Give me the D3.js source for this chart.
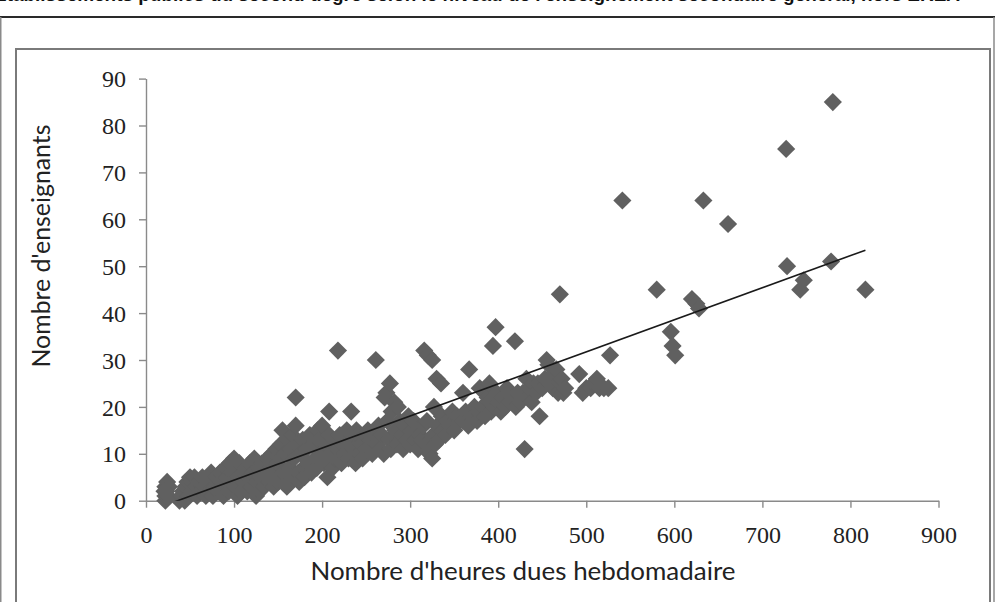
<!DOCTYPE html>
<html lang="fr">
<head>
<meta charset="utf-8">
<script src="https://cdn.jsdelivr.net/npm/d3@7"></script>
<style>
  html, body { margin: 0; padding: 0; background: #fff; }
  svg { display: block; }
</style>
</head>
<body>
<script>
// Établissements : heures dues hebdomadaires (x) et nombre d'enseignants (y)
const heures = [
  22, 22, 23, 22, 24, 25, 26, 21,
  38, 40, 42, 44, 45, 47, 48, 50, 52, 53,
  55, 57, 58, 60, 62, 64, 66, 68,
  70, 72, 74, 76, 78, 80, 82, 84, 86, 88, 89,
  90, 92, 94, 95, 96, 98, 100, 101, 102, 104, 105, 106, 108, 110,
  112, 114, 115, 117, 118, 120, 122, 123, 125, 126, 128, 129,
  130, 132, 134, 136, 138, 140, 142, 143, 145, 146, 148, 149,
  150, 152, 153, 155, 156, 158, 160, 161, 163, 164,
  165, 166, 168, 170, 170, 171, 173, 174, 176, 178, 179,
  180, 182, 184, 186, 188, 190, 192, 194, 195, 196, 198, 200,
  202, 204, 206, 208, 208, 210, 212, 213, 215,
  218, 218, 220, 222, 224, 226, 228, 230, 233, 234, 236, 238, 239, 240,
  242, 244, 246, 248, 250, 252, 255, 257, 259,
  261, 262, 264, 266, 268, 270, 271, 273, 274, 276, 277, 278, 279,
  282, 283, 285, 286, 288, 290, 292, 294, 296, 298, 300,
  302, 304, 306, 307, 309, 311, 313, 315, 316, 318, 319,
  320, 322, 325, 325, 326, 327, 328, 330, 331, 333, 335, 336, 338, 340,
  342, 345, 348, 350, 353, 356, 360, 360, 363, 366, 367, 370, 373, 376, 377, 379,
  382, 385, 388, 390, 390, 392, 394, 396, 397, 398, 400, 403, 405, 408, 410, 413, 416, 419, 420,
  422, 425, 428, 430, 432, 434, 436, 438, 440, 443, 445, 447, 450, 453, 455, 457, 459,
  462, 464, 466, 468, 470, 470, 472, 474, 476, 492, 496, 500, 505, 508, 512, 515, 520, 525, 527,
  541, 580, 596, 598, 601, 620, 625, 628, 633, 661, 727, 728, 743, 747, 778, 780, 817
];
const enseignants = [
  0, 1, 2, 3, 4, 1, 3, 2,
  0, 1, 2, 0, 3, 4, 1, 5, 2, 4,
  5, 3, 1, 4, 2, 5, 3, 1,
  4, 2, 6, 1, 3, 5, 2, 6, 4, 1, 3,
  7, 5, 2, 8, 4, 6, 9, 3, 7, 1, 5, 8, 2, 6,
  4, 7, 2, 5, 8, 3, 6, 9, 1, 4, 7, 2,
  5, 8, 3, 6, 9, 4, 7, 10, 3, 6, 11, 8,
  4, 9, 12, 15, 6, 10, 3, 13, 7, 11,
  5, 14, 9, 22, 16, 12, 6, 4, 10, 13, 7,
  5, 11, 8, 14, 6, 12, 9, 7, 15, 13, 10, 16,
  8, 12, 5, 19, 14, 10, 7, 13, 9,
  32, 11, 14, 8, 12, 10, 15, 9, 19, 13, 11, 8, 15, 14,
  10, 12, 9, 14, 11, 15, 13, 10, 14,
  30, 12, 16, 11, 14, 10, 22, 23, 17, 13, 25, 11, 19,
  21, 15, 12, 20, 17, 14, 11, 16, 13, 18, 12,
  15, 17, 13, 15, 11, 14, 13, 16, 32, 12, 17,
  31, 10, 9, 30, 14, 20, 12, 26, 16, 13, 25, 18, 15, 14,
  17, 16, 19, 15, 18, 17, 17, 23, 19, 16, 28, 18, 20, 17, 19, 24,
  20, 18, 22, 25, 21, 19, 33, 20, 37, 23, 21, 19, 22, 20, 24, 21, 22, 34, 20,
  23, 21, 23, 11, 26, 22, 24, 21, 25, 23, 25, 18, 24, 26, 30, 29, 25,
  24, 27, 28, 23, 44, 25, 26, 23, 24, 27, 23, 24, 24, 25, 26, 24, 24, 24, 31,
  64, 45, 36, 33, 31, 43, 42, 41, 64, 59, 75, 50, 45, 47, 51, 85, 45
];
// Droite de tendance linéaire : y = pente * x + ordonnée
const trendSlope = 0.0684;
const trendIntercept = -2.46;

const xTicks = [0, 100, 200, 300, 400, 500, 600, 700, 800, 900];
const yTicks = [0, 10, 20, 30, 40, 50, 60, 70, 80, 90];

const titleText = "Établissements publics du second degré selon le niveau de l'enseignement secondaire général, hors EREA";
const xTitle = "Nombre d'heures dues hebdomadaire";
const yTitle = "Nombre d'enseignants";

const W = 995, H = 602;
const svg = d3.select("body").append("svg").attr("width", W).attr("height", H);

// page frame: cut-off title, rule and borders
svg.append("text")
  .attr("x", -6).attr("y", 1)
  .attr("textLength", 966).attr("lengthAdjust", "spacingAndGlyphs")
  .style("font-family", "'Liberation Sans', Arial, sans-serif")
  .style("font-weight", "bold").style("font-size", "18px").attr("fill", "#111")
  .text(titleText);
svg.append("line").attr("x1", 0).attr("x2", W).attr("y1", 17).attr("y2", 17)
  .attr("stroke", "#2a2a2a").attr("stroke-width", 2.2);
svg.append("line").attr("x1", 0.75).attr("x2", 0.75).attr("y1", 17).attr("y2", H)
  .attr("stroke", "#8a8a8a").attr("stroke-width", 1.5);
svg.append("line").attr("x1", 994).attr("x2", 994).attr("y1", 17).attr("y2", H)
  .attr("stroke", "#8a8a8a").attr("stroke-width", 1.5);

// chart box
svg.append("rect").attr("x", 16).attr("y", 49).attr("width", 974).attr("height", 600)
  .attr("fill", "#fff").attr("stroke", "#7a7a7a").attr("stroke-width", 2);

const x = d3.scaleLinear().domain([0, 900]).range([146, 938.5]);
const y = d3.scaleLinear().domain([0, 90]).range([500.7, 78.6]);

const axisColor = "#8a8a8a";
const tickFont = "'Liberation Serif', 'Times New Roman', serif";

const gx = svg.append("g").attr("transform", `translate(0,${y(0)})`)
  .call(d3.axisBottom(x).tickValues(xTicks).tickSize(7).tickPadding(18).tickSizeOuter(0));
const gy = svg.append("g").attr("transform", `translate(${x(0)},0)`)
  .call(d3.axisLeft(y).tickValues(yTicks).tickSize(7).tickPadding(13).tickSizeOuter(0));
[gx, gy].forEach(g => {
  g.select(".domain").attr("stroke", axisColor).attr("stroke-width", 1.4);
  g.selectAll(".tick line").attr("stroke", axisColor).attr("stroke-width", 1.4);
  g.selectAll(".tick text").attr("fill", "#222")
    .style("font-family", tickFont).style("font-size", "24px");
});
gx.selectAll(".tick text").attr("dy", "0.71em");
gy.selectAll(".tick text").attr("dy", "0.34em");

// points
const pts = heures.map((h, i) => [h, enseignants[i]]);
const diamond = d3.symbol().type(d3.symbolSquare).size(165);
svg.append("g").selectAll("path").data(pts).join("path")
  .attr("d", diamond)
  .attr("transform", d => `translate(${x(d[0])},${y(d[1])}) rotate(45)`)
  .attr("fill", "#606060");

// trend line over the data range, clipped to the plot area
svg.append("clipPath").attr("id", "plot-clip").append("rect")
  .attr("x", x(0)).attr("y", y(90)).attr("width", x(900) - x(0)).attr("height", y(0) - y(90));
const [xmin, xmax] = d3.extent(heures);
svg.append("path")
  .datum([xmin, xmax])
  .attr("clip-path", "url(#plot-clip)")
  .attr("d", d3.line().x(v => x(v)).y(v => y(trendSlope * v + trendIntercept)))
  .attr("stroke", "#1a1a1a").attr("stroke-width", 1.6).attr("fill", "none");

// axis titles
svg.append("text")
  .attr("x", 523).attr("y", 580).attr("text-anchor", "middle")
  .attr("textLength", 425).attr("lengthAdjust", "spacingAndGlyphs")
  .style("font-family", "Lato, 'Open Sans', sans-serif").style("font-size", "25px")
  .attr("fill", "#222").text(xTitle);
svg.append("text")
  .attr("transform", "translate(50,246) rotate(-90)").attr("text-anchor", "middle")
  .attr("textLength", 243).attr("lengthAdjust", "spacingAndGlyphs")
  .style("font-family", "Lato, 'Open Sans', sans-serif").style("font-size", "25px")
  .attr("fill", "#222").text(yTitle);
</script>
</body>
</html>
